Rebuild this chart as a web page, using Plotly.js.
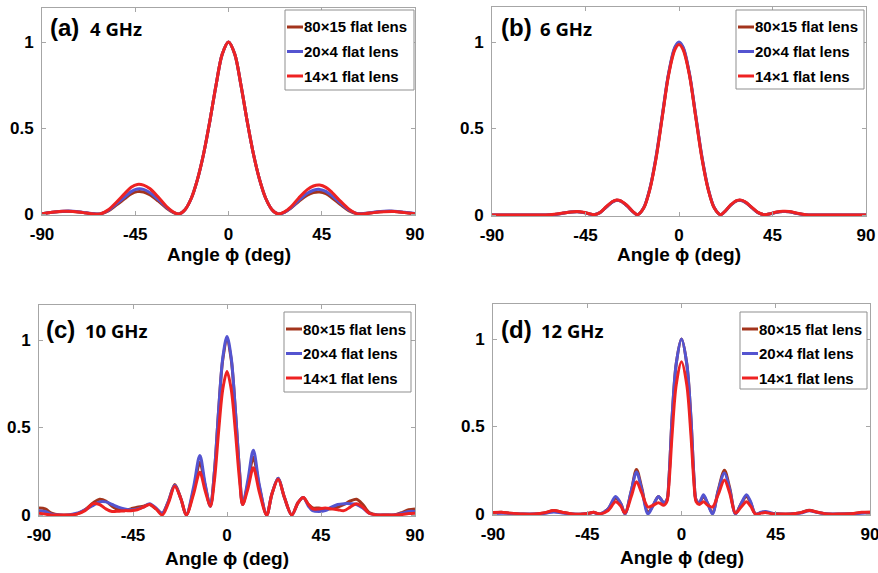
<!DOCTYPE html>
<html><head><meta charset="utf-8">
<script src="https://cdn.plot.ly/plotly-3.0.1.min.js"></script>
<style>html,body{margin:0;padding:0;background:#fff}#chart{width:878px;height:573px}</style>
</head><body><div id="chart"></div>
<script>
// ---------- data ----------
const seriesNames = ['80×15 flat lens', '20×4 flat lens', '14×1 flat lens'];
const seriesColors = ['#A3341C', '#5454D0', '#EE2222'];
const xTickVals = [-90, -45, 0, 45, 90];
const xTickText = ['-90', '-45', '0', '45', '90'];
const yTickVals = [0, 0.5, 1];
const yTickText = ['0', '0.5', '1'];
const panelLetters = ['(a)', '(b)', '(c)', '(d)'];
const panelFreqs = ['4 GHz', '6 GHz', '10 GHz', '12 GHz'];
const xTitle = 'Angle ϕ (deg)';

// (a) 4 GHz
const angleA = [-90,-85,-80,-75,-70,-66,-62,-58,-54,-50,-47,-44,-41,-38,-34,-30,-27,-24,-21,-18,-15,-12,-9,-6,-3,0,3,6,9,12,15,18,21,24,27,30,34,38,41,44,47,50,54,58,62,66,70,75,80,85,90];
const a80x15 = [0.002,0.01,0.015,0.015,0.008,0.002,0.0,0.018,0.053,0.09,0.117,0.13,0.128,0.112,0.076,0.035,0.011,0.0,0.025,0.09,0.2,0.35,0.54,0.75,0.93,1.0,0.93,0.75,0.54,0.35,0.2,0.09,0.025,0.0,0.01,0.033,0.074,0.11,0.125,0.128,0.118,0.093,0.055,0.02,0.002,0.003,0.009,0.014,0.015,0.009,0.002];
const a20x4  = [0.002,0.01,0.016,0.016,0.009,0.003,0.0,0.02,0.06,0.1,0.13,0.145,0.143,0.125,0.085,0.04,0.013,0.0,0.025,0.09,0.2,0.35,0.54,0.75,0.93,1.0,0.93,0.75,0.54,0.35,0.2,0.09,0.025,0.0,0.01,0.035,0.08,0.12,0.138,0.143,0.132,0.105,0.063,0.025,0.003,0.004,0.01,0.016,0.016,0.01,0.003];
const a14x1  = [0.002,0.01,0.016,0.015,0.008,0.002,0.0,0.025,0.07,0.12,0.155,0.172,0.168,0.148,0.1,0.045,0.015,0.0,0.025,0.09,0.2,0.35,0.54,0.75,0.93,1.0,0.93,0.75,0.54,0.35,0.2,0.09,0.025,0.0,0.012,0.04,0.095,0.142,0.163,0.168,0.155,0.125,0.075,0.03,0.002,0.002,0.008,0.013,0.014,0.008,0.002];

// (b) 6 GHz
const angleB = [-90,-80,-70,-64,-60,-56,-52,-49,-46,-43,-41,-38,-35,-32,-30,-28,-25,-22,-20,-17,-14,-11,-8,-5,-2,0,2,5,8,11,14,17,20,22,25,28,30,32,35,38,41,44,47,50,53,57,61,64,70,80,90];
const b80x15 = [0,0,0,0,0.003,0.01,0.017,0.019,0.015,0.006,0.002,0.014,0.046,0.076,0.085,0.08,0.053,0.017,0.002,0.041,0.152,0.335,0.575,0.815,0.965,0.995,0.965,0.815,0.575,0.335,0.152,0.041,0.002,0.019,0.058,0.083,0.084,0.073,0.043,0.014,0.002,0.007,0.016,0.02,0.019,0.009,0.002,0,0,0,0];
const b20x4  = [0,0,0,0,0.003,0.01,0.017,0.019,0.015,0.006,0.002,0.014,0.046,0.076,0.085,0.08,0.053,0.017,0.002,0.042,0.155,0.34,0.58,0.82,0.97,1.0,0.97,0.82,0.58,0.34,0.155,0.042,0.002,0.019,0.058,0.083,0.084,0.073,0.043,0.014,0.002,0.007,0.016,0.02,0.019,0.009,0.002,0,0,0,0];
const b14x1  = [0,0,0,0,0.004,0.011,0.018,0.02,0.016,0.007,0.002,0.015,0.048,0.078,0.087,0.082,0.055,0.018,0.002,0.04,0.15,0.33,0.57,0.81,0.955,0.985,0.955,0.81,0.57,0.33,0.15,0.04,0.002,0.02,0.06,0.085,0.086,0.075,0.045,0.015,0.002,0.008,0.017,0.021,0.02,0.01,0.002,0,0,0,0];

// (c) 10 GHz
const angleC = [-90,-87,-84,-80,-76,-72,-68,-64,-61,-58,-55,-52,-49,-46,-43,-40,-37,-34,-31,-28,-25,-22,-19.5,-16,-13,-10.5,-8,-6,-4,-2,0,2,4,6,7.5,10,12.6,15.5,19,21.5,24.5,27.5,31,34,36.5,39,41,44,47,50,53,56,59,62,65,68,72,76,80,84,87,90];
const c80x15 = [0.04,0.035,0.01,0,0,0.005,0.03,0.07,0.09,0.08,0.05,0.03,0.025,0.035,0.045,0.05,0.06,0.035,0.01,0.08,0.175,0.09,0.0,0.14,0.3,0.17,0.05,0.25,0.6,0.89,1.0,0.89,0.6,0.25,0.06,0.18,0.33,0.16,0.0,0.12,0.21,0.1,0.0,0.07,0.1,0.06,0.04,0.04,0.035,0.035,0.045,0.06,0.08,0.09,0.06,0.015,0,0,0,0.015,0.03,0.035];
const c20x4  = [0.025,0.02,0.005,0,0,0.01,0.03,0.055,0.075,0.075,0.06,0.045,0.035,0.03,0.035,0.045,0.065,0.04,0.01,0.08,0.17,0.09,0.0,0.16,0.34,0.18,0.05,0.25,0.6,0.9,1.02,0.9,0.6,0.25,0.06,0.2,0.37,0.17,0.0,0.12,0.21,0.1,0.0,0.07,0.1,0.05,0.025,0.02,0.025,0.045,0.06,0.065,0.065,0.06,0.04,0.01,0,0,0,0.01,0.02,0.02];
const c14x1  = [0.01,0.005,0,0,0,0.005,0.025,0.065,0.06,0.035,0.02,0.022,0.025,0.025,0.03,0.045,0.06,0.035,0.0,0.07,0.165,0.09,0.0,0.12,0.245,0.14,0.05,0.2,0.48,0.72,0.82,0.72,0.48,0.2,0.06,0.15,0.27,0.13,0.0,0.12,0.205,0.1,0.0,0.07,0.1,0.06,0.035,0.035,0.04,0.035,0.03,0.025,0.045,0.065,0.045,0.01,0,0,0,0.003,0.008,0.01];

// (d) 12 GHz
const angleD = [-90,-86,-82,-76,-70,-65,-61,-57,-52,-47,-44,-42,-39,-35,-31.5,-29,-27,-24,-21.5,-19,-16,-13.5,-11,-8.5,-7,-6,-4.5,-2.5,0,2.5,4.5,6,7,8.5,10.5,12.5,14.8,17.5,20.5,23,25.8,28.5,31,33,35.3,38,40,43,47,52,57,61,65,70,76,82,86,90];
const d80x15 = [0.006,0.01,0.005,0,0,0.007,0.02,0.01,0,0,0.005,0.01,0.0,0.03,0.09,0.06,0.002,0.13,0.255,0.15,0.01,0.05,0.1,0.065,0.08,0.2,0.55,0.86,1.0,0.86,0.55,0.2,0.08,0.065,0.1,0.06,0.005,0.135,0.25,0.15,0.002,0.06,0.1,0.065,0.0,0.008,0.012,0.004,0,0,0.008,0.022,0.01,0,0,0.003,0.008,0.01];
const d20x4  = [0.003,0.005,0.003,0,0,0.004,0.012,0.006,0,0,0.005,0.008,0.0,0.03,0.1,0.06,0.0,0.13,0.24,0.14,0.0,0.05,0.1,0.065,0.08,0.2,0.55,0.86,1.0,0.86,0.55,0.2,0.08,0.065,0.11,0.06,0.0,0.13,0.235,0.14,0.0,0.06,0.11,0.07,0.0,0.01,0.015,0.005,0,0,0.006,0.018,0.008,0,0,0.002,0.005,0.005];
const d14x1  = [0.008,0.01,0.005,0,0,0.008,0.02,0.01,0,0,0.005,0.01,0.0,0.02,0.07,0.045,0.005,0.1,0.185,0.12,0.04,0.05,0.065,0.05,0.07,0.17,0.45,0.74,0.87,0.74,0.45,0.17,0.07,0.055,0.07,0.05,0.04,0.11,0.195,0.12,0.005,0.04,0.07,0.045,0.0,0.005,0.008,0.002,0,0,0.008,0.02,0.01,0,0,0.003,0.01,0.01];

const panelAngles = [angleA, angleB, angleC, angleD];
const panelSeries = [[a80x15, a20x4, a14x1], [b80x15, b20x4, b14x1], [c80x15, c20x4, c14x1], [d80x15, d20x4, d14x1]];

// ---------- layout geometry (pixels) ----------
const W = 878, H = 573;
const geom = [
  {left: 42,  right: 415, y0: 214, y1: 42},
  {left: 492, right: 866, y0: 215, y1: 42},
  {left: 39,  right: 415, y0: 515, y1: 340},
  {left: 493, right: 870, y0: 514, y1: 339}
];
const yMin = -0.008, yMax = 1.2;
const legendBox = [
  {left: 285, top: 10, w: 129, h: 80},
  {left: 736, top: 10, w: 128, h: 79},
  {left: 284, top: 312, w: 127, h: 80},
  {left: 740, top: 312, w: 127, h: 77}
];
const labelPos = [
  {lx: 48, fx: 88, y: 28, t: 255},
  {lx: 499, fx: 538, y: 28, t: 255},
  {lx: 44, fx: 83, y: 329, t: 558},
  {lx: 499, fx: 539, y: 329, t: 557}
];

const px = x => x / W;
const py = y => 1 - y / H;

const boldFont = 'Arial, "Liberation Sans", sans-serif';
const traces = [];
const layout = {
  width: W, height: H,
  margin: {l: 0, r: 0, t: 0, b: 0},
  paper_bgcolor: '#fff', plot_bgcolor: '#fff',
  showlegend: false,
  shapes: [], annotations: []
};

geom.forEach((g, i) => {
  const k = i === 0 ? '' : String(i + 1);
  const scale = g.y0 - g.y1;
  const bottomPx = g.y0 - yMin * scale;
  const topPx = g.y0 - yMax * scale;
  const axCommon = {
    showline: true, linecolor: '#a6a6a6', linewidth: 1, mirror: 'ticks',
    ticks: 'inside', ticklen: 4, tickcolor: '#a6a6a6', tickwidth: 1,
    showgrid: false, zeroline: false, fixedrange: true,
    ticklabeloverflow: 'allow',
    tickfont: {family: boldFont, size: 17, weight: 'bold', color: '#000'}
  };
  layout['xaxis' + k] = Object.assign({}, axCommon, {
    domain: [px(g.left), px(g.right)], range: [-90, 90],
    tickvals: xTickVals, ticktext: xTickText, anchor: 'y' + k,
    ticklabelstandoff: 3
  });
  layout['yaxis' + k] = Object.assign({}, axCommon, {
    domain: [py(bottomPx), py(topPx)], range: [yMin, yMax],
    tickvals: yTickVals, ticktext: yTickText, anchor: 'x' + k,
    ticklabelstandoff: 4
  });
  panelSeries[i].forEach((vals, s) => {
    traces.push({
      type: 'scatter', mode: 'lines', name: seriesNames[s],
      x: panelAngles[i], y: vals, xaxis: 'x' + k, yaxis: 'y' + k,
      line: {color: seriesColors[s], width: 3, shape: 'spline', smoothing: 0.9},
      hoverinfo: 'x+y+name'
    });
  });
  // axis title
  const L = labelPos[i];
  layout.annotations.push({xref: 'paper', yref: 'paper', x: px((g.left + g.right) / 2), y: py(L.t),
    xanchor: 'center', yanchor: 'middle', showarrow: false, text: xTitle,
    font: {family: boldFont, size: 19, weight: 'bold', color: '#000'}});
  // legend
  const b = legendBox[i];
  layout.shapes.push({type: 'rect', xref: 'paper', yref: 'paper',
    x0: px(b.left), x1: px(b.left + b.w), y0: py(b.top + b.h), y1: py(b.top),
    line: {color: '#8f8f8f', width: 1}, fillcolor: '#fff', layer: 'above'});
  seriesNames.forEach((nm, s) => {
    const rowY = b.top + 17 + s * 24.5;
    layout.shapes.push({type: 'line', xref: 'paper', yref: 'paper',
      x0: px(b.left + 2), x1: px(b.left + 18), y0: py(rowY), y1: py(rowY),
      line: {color: seriesColors[s], width: 3}, layer: 'above'});
    layout.annotations.push({xref: 'paper', yref: 'paper', x: px(b.left + 17), y: py(rowY),
      xanchor: 'left', yanchor: 'middle', showarrow: false, text: nm,
      font: {family: boldFont, size: 15, weight: 'bold', color: '#000'}});
  });
  // panel labels
  layout.annotations.push({xref: 'paper', yref: 'paper', x: px(L.lx), y: py(L.y),
    xanchor: 'left', yanchor: 'middle', showarrow: false, text: panelLetters[i],
    font: {family: boldFont, size: 24, weight: 'bold', color: '#000'}});
  layout.annotations.push({xref: 'paper', yref: 'paper', x: px(L.fx), y: py(L.y + 1),
    xanchor: 'left', yanchor: 'middle', showarrow: false, text: panelFreqs[i],
    font: {family: '"Open Sans", "Noto Sans", sans-serif', size: 18.5, weight: 'bold', color: '#000'}});
});

Plotly.newPlot('chart', traces, layout, {staticPlot: true, displayModeBar: false});
</script>
</body></html>
